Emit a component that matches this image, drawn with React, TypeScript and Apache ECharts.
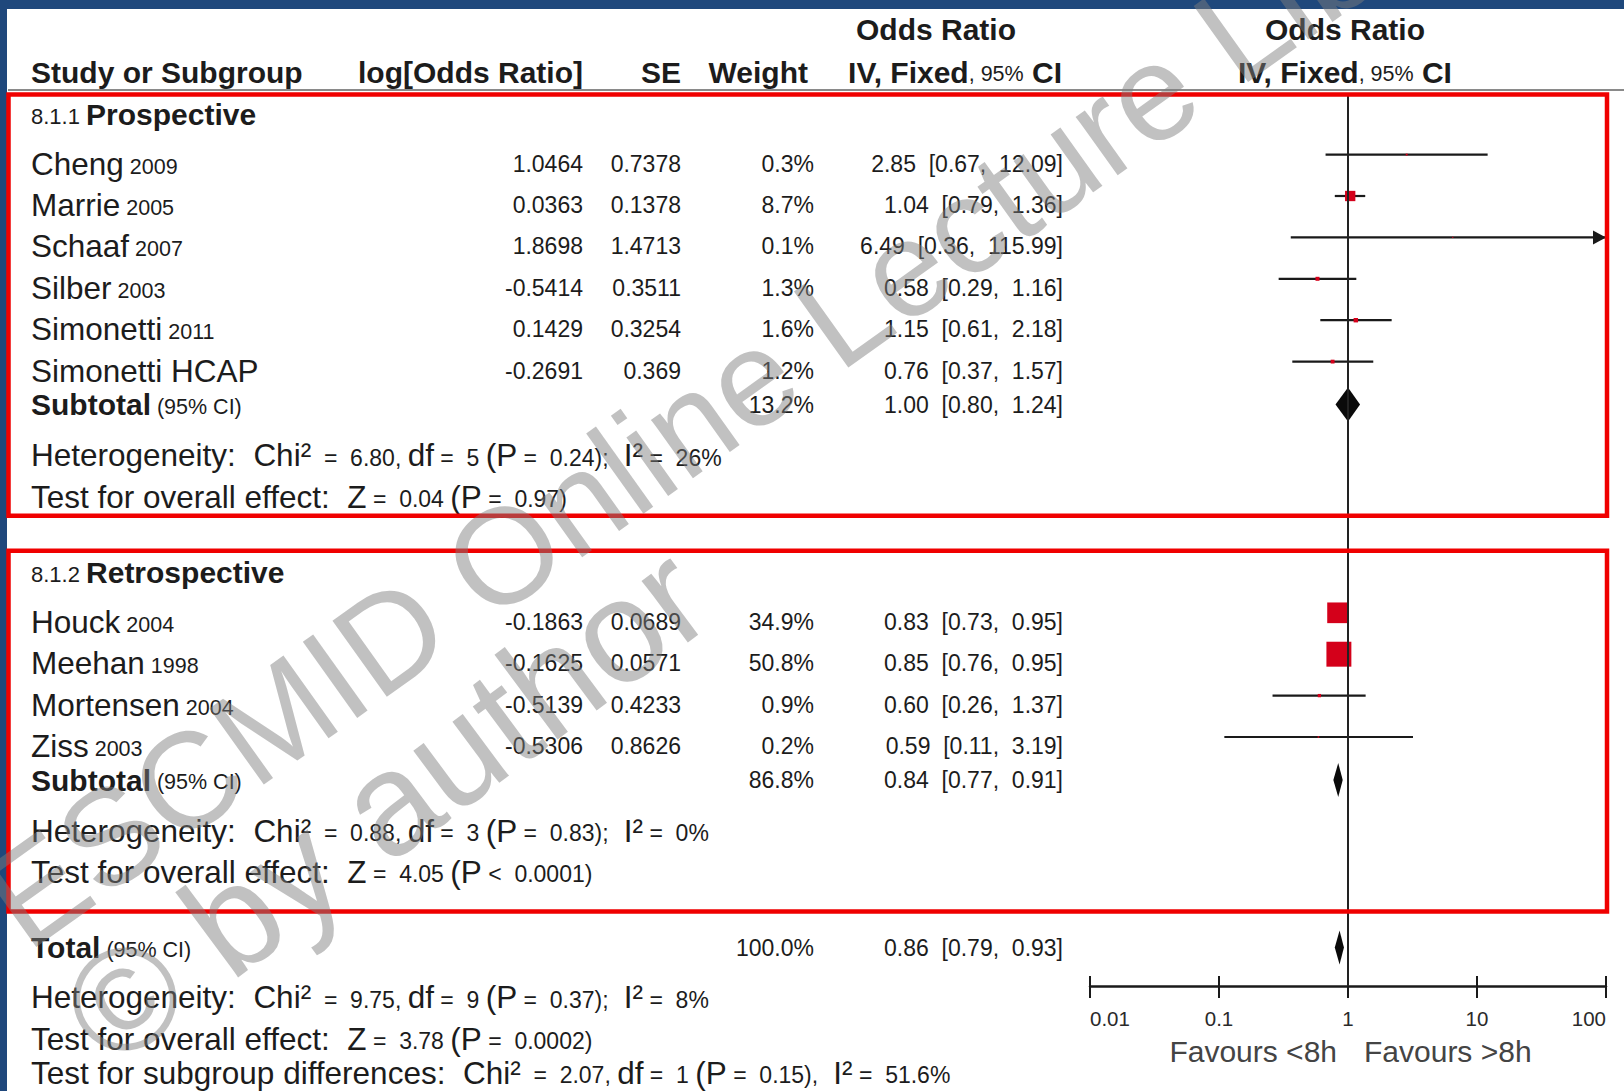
import React, { useEffect, useRef } from 'react';
import * as echarts from 'echarts';

const FONT = '"Liberation Sans", Arial, sans-serif';
const INK = '#1c1c1c';

// 8.1.1 Prospective
const prospectiveStudies = ['Cheng', 'Marrie', 'Schaaf', 'Silber', 'Simonetti', 'Simonetti HCAP'];
const prospectiveYears = ['2009', '2005', '2007', '2003', '2011', ''];
const prospectiveLogOR = [1.0464, 0.0363, 1.8698, -0.5414, 0.1429, -0.2691];
const prospectiveSE = [0.7378, 0.1378, 1.4713, 0.3511, 0.3254, 0.369];
const prospectiveWeight = [0.3, 8.7, 0.1, 1.3, 1.6, 1.2];
const prospectiveOR = [2.85, 1.04, 6.49, 0.58, 1.15, 0.76];
const prospectiveLow = [0.67, 0.79, 0.36, 0.29, 0.61, 0.37];
const prospectiveHigh = [12.09, 1.36, 115.99, 1.16, 2.18, 1.57];

// 8.1.2 Retrospective
const retrospectiveStudies = ['Houck', 'Meehan', 'Mortensen', 'Ziss'];
const retrospectiveYears = ['2004', '1998', '2004', '2003'];
const retrospectiveLogOR = [-0.1863, -0.1625, -0.5139, -0.5306];
const retrospectiveSE = [0.0689, 0.0571, 0.4233, 0.8626];
const retrospectiveWeight = [34.9, 50.8, 0.9, 0.2];
const retrospectiveOR = [0.83, 0.85, 0.6, 0.59];
const retrospectiveLow = [0.73, 0.76, 0.26, 0.11];
const retrospectiveHigh = [0.95, 0.95, 1.37, 3.19];

const subgroupNumbers = ['8.1.1', '8.1.2'];
const subgroupNames = ['Prospective', 'Retrospective'];
const subtotalWeight = [13.2, 86.8];
const subtotalOR = [1.0, 0.84];
const subtotalLow = [0.8, 0.77];
const subtotalHigh = [1.24, 0.91];
const totalWeight = 100.0;
const totalOR = 0.86;
const totalLow = 0.79;
const totalHigh = 0.93;

// heterogeneity / overall effect: prospective, retrospective, total
const hetChi = ['6.80', '0.88', '9.75'];
const hetDf = ['5', '3', '9'];
const hetP = ['= 0.24', '= 0.83', '= 0.37'];
const hetI2 = ['26%', '0%', '8%'];
const effectZ = ['0.04', '4.05', '3.78'];
const effectP = ['= 0.97', '< 0.0001', '= 0.0002'];
const diffChi = '2.07';
const diffDf = '1';
const diffP = '= 0.15';
const diffI2 = '51.6%';

const tickValues = [0.01, 0.1, 1, 10, 100];
const tickLabels = ['0.01', '0.1', '1', '10', '100'];
const favourLeft = 'Favours <8h';
const favourRight = 'Favours >8h';

// layout
const PAGE_W = 1624;
const PAGE_H = 1091;
const PLOT_LEFT = 1090;
const PLOT_RIGHT = 1606;
const PLOT_TOP = 95;
const AXIS_Y = 986;
const COL_LABEL = 31;
const COL_LOGOR = 583;
const COL_SE = 681;
const COL_WEIGHT = 814;
const COL_CI = 1063;
const PLOT_CENTER = 1345;
const SQUARE_K = 3.5;
const DIAMOND_H = 17;
const MARK_OFFSET = 9;
const NUM_FONT = `23px ${FONT}`;

const studies = [prospectiveStudies, retrospectiveStudies];
const years = [prospectiveYears, retrospectiveYears];
const logORs = [prospectiveLogOR, retrospectiveLogOR];
const ses = [prospectiveSE, retrospectiveSE];
const weights = [prospectiveWeight, retrospectiveWeight];
const ors = [prospectiveOR, retrospectiveOR];
const lows = [prospectiveLow, retrospectiveLow];
const highs = [prospectiveHigh, retrospectiveHigh];

type Row = { kind: string; y: number; g: number; i: number };

function buildRows(): Row[] {
  const rows: Row[] = [];
  let y = 114;
  for (let g = 0; g < 2; g++) {
    if (g > 0) y += 75.7;
    rows.push({ kind: 'group', g, i: -1, y });
    for (let i = 0; i < studies[g].length; i++) {
      y += i === 0 ? 49.6 : 41.4;
      rows.push({ kind: 'study', g, i, y });
    }
    y += 34;
    rows.push({ kind: 'subtotal', g, i: -1, y });
    y += 50.5;
    rows.push({ kind: 'het', g, i: -1, y });
    y += 41.4;
    rows.push({ kind: 'effect', g, i: -1, y });
  }
  y += 75.7;
  rows.push({ kind: 'total', g: 2, i: -1, y });
  y += 49.7;
  rows.push({ kind: 'het', g: 2, i: -1, y });
  y += 41.4;
  rows.push({ kind: 'effect', g: 2, i: -1, y });
  y += 34;
  rows.push({ kind: 'diff', g: 2, i: -1, y });
  return rows;
}

const tok = (size: number, bold = false, lift = 0) => ({
  fontSize: size,
  fontFamily: FONT,
  fontWeight: bold ? 'bold' : 'normal',
  fill: INK,
  verticalAlign: 'bottom',
  padding: [0, 0, lift, 0],
});

const RICH = {
  b: tok(30, true),
  w: tok(31.5),
  s: tok(21.5, false, 2),
  n: tok(23, false, 2),
  sb: tok(22, false, 2),
};

function text(x: number, y: number, content: string, align = 'left', font = NUM_FONT, rich = false, fill = INK) {
  const style: any = {
    text: content,
    x: 0,
    y: 0,
    fill,
    font,
    textAlign: align,
    verticalAlign: 'middle',
    textVerticalAlign: 'middle',
  };
  if (rich) style.rich = RICH;
  return { type: 'text', x, y, silent: true, z: 10, style };
}

const ci = (o: number, l: number, h: number) => `${o.toFixed(2)}  [${l.toFixed(2)},  ${h.toFixed(2)}]`;

// statistic line: words in the large face, values in the small one
const stat = (parts: [string, string][]) => parts.map(([k, v]) => `{${k}|${v}}`).join('');
// relation sign followed by a wide gap, as in the printed statistics
const rel = (s: string) => s.replace(/^([=<]) /, '$1  ');

function tableGraphics(rows: Row[], oneX: number) {
  const out: any[] = [];
  // frame
  out.push({ type: 'rect', shape: { x: 0, y: 0, width: PAGE_W, height: 9 }, style: { fill: '#1f487c' }, silent: true });
  out.push({ type: 'rect', shape: { x: 0, y: 0, width: 7, height: PAGE_H }, style: { fill: '#1f487c' }, silent: true });
  out.push({ type: 'line', shape: { x1: 8, y1: 90, x2: PAGE_W, y2: 90 }, style: { stroke: '#8a8a8a', lineWidth: 2 }, silent: true });

  // headers
  out.push(text(936, 29, 'Odds Ratio', 'center', `bold 30px ${FONT}`));
  out.push(text(PLOT_CENTER, 29, 'Odds Ratio', 'center', `bold 30px ${FONT}`));
  out.push(text(COL_LABEL, 72, 'Study or Subgroup', 'left', `bold 30px ${FONT}`));
  out.push(text(COL_LOGOR, 72, 'log[Odds Ratio]', 'right', `bold 30px ${FONT}`));
  out.push(text(COL_SE, 72, 'SE', 'right', `bold 30px ${FONT}`));
  out.push(text(COL_WEIGHT - 6, 72, 'Weight', 'right', `bold 30px ${FONT}`));
  out.push(text(COL_CI - 1, 72, '{b|IV, Fixed}{s|, 95%}{b| CI}', 'right', `bold 30px ${FONT}`, true));
  out.push(text(PLOT_CENTER, 72, '{b|IV, Fixed}{s|, 95%}{b| CI}', 'center', `bold 30px ${FONT}`, true));

  const boxes: number[][] = [];
  rows.forEach((r) => {
    const y = r.y;
    const g = r.g;
    if (r.kind === 'group') {
      out.push(text(COL_LABEL, y, `{sb|${subgroupNumbers[g]} }{b|${subgroupNames[g]}}`, 'left', `bold 30px ${FONT}`, true));
      boxes.push([y - (g === 0 ? 19.5 : 21.5)]);
    } else if (r.kind === 'study') {
      const i = r.i;
      const yr = years[g][i];
      out.push(text(COL_LABEL, y, `{w|${studies[g][i]}}${yr ? `{s| ${yr}}` : ''}`, 'left', `31px ${FONT}`, true));
      out.push(text(COL_LOGOR, y, String(logORs[g][i]), 'right'));
      out.push(text(COL_SE, y, String(ses[g][i]), 'right'));
      out.push(text(COL_WEIGHT, y, `${weights[g][i].toFixed(1)}%`, 'right'));
      out.push(text(COL_CI, y, ci(ors[g][i], lows[g][i], highs[g][i]), 'right'));
    } else if (r.kind === 'subtotal' || r.kind === 'total') {
      const isTotal = r.kind === 'total';
      out.push(text(COL_LABEL, y, `{b|${isTotal ? 'Total' : 'Subtotal'}}{s| (95% CI)}`, 'left', `bold 30px ${FONT}`, true));
      out.push(text(COL_WEIGHT, y, `${(isTotal ? totalWeight : subtotalWeight[g]).toFixed(1)}%`, 'right'));
      out.push(text(COL_CI, y, isTotal ? ci(totalOR, totalLow, totalHigh) : ci(subtotalOR[g], subtotalLow[g], subtotalHigh[g]), 'right'));
    } else if (r.kind === 'het') {
      out.push(text(COL_LABEL, y, stat([
        ['w', 'Heterogeneity:  Chi²'], ['n', `  =  ${hetChi[g]}, `], ['w', 'df'], ['n', ` =  ${hetDf[g]} `],
        ['w', '(P'], ['n', ` ${rel(hetP[g])}); `], ['w', ' I²'], ['n', ` =  ${hetI2[g]}`],
      ]), 'left', `31px ${FONT}`, true));
    } else if (r.kind === 'effect') {
      out.push(text(COL_LABEL, y, stat([
        ['w', 'Test for overall effect:  Z'], ['n', ` =  ${effectZ[g]} `], ['w', '(P'], ['n', ` ${rel(effectP[g])})`],
      ]), 'left', `31px ${FONT}`, true));
      if (g < 2) boxes[g].push(y + (g === 0 ? 19.3 : 39.5));
    } else if (r.kind === 'diff') {
      out.push(text(COL_LABEL, y, stat([
        ['w', 'Test for subgroup differences:  Chi²'], ['n', `  =  ${diffChi}, `], ['w', 'df'], ['n', ` =  ${diffDf} `],
        ['w', '(P'], ['n', ` ${rel(diffP)}), `], ['w', ' I²'], ['n', ` =  ${diffI2}`],
      ]), 'left', `31px ${FONT}`, true));
    }
  });

  boxes.forEach(([top, bottom]) => {
    out.push({
      type: 'rect',
      silent: true,
      z: 20,
      shape: { x: 8.5, y: top, width: 1598.5, height: bottom - top },
      style: { fill: 'none', stroke: '#f00000', lineWidth: 4.5 },
    });
  });

  out.push(text(oneX - 11, 1051, favourLeft, 'right', `30px ${FONT}`, false, '#444'));
  out.push(text(oneX + 16, 1051, favourRight, 'left', `30px ${FONT}`, false, '#444'));

  // watermark
  const wm = { fill: 'rgba(125,125,125,0.48)', textAlign: 'center', verticalAlign: 'middle', textVerticalAlign: 'middle' };
  out.push({ type: 'text', x: 775, y: 362, rotation: 0.62, silent: true, z: 50, style: { ...wm, font: `136px ${FONT}`, text: 'ESCMID Online Lecture Library' } });
  out.push({ type: 'text', x: 385, y: 805, rotation: 0.64, silent: true, z: 50, style: { ...wm, font: `146px ${FONT}`, text: '© by author' } });
  return out;
}

export default function App() {
  const ref = useRef<HTMLDivElement>(null);

  useEffect(() => {
    document.body.style.margin = '0';
    const chart = echarts.init(ref.current!, null, { renderer: 'svg' });
    const rows = buildRows();

    const studyData: number[][] = [];
    rows.forEach((r) => {
      if (r.kind === 'study') {
        studyData.push([ors[r.g][r.i], lows[r.g][r.i], highs[r.g][r.i], weights[r.g][r.i], r.y - MARK_OFFSET]);
      }
    });
    const diamondData: number[][] = [];
    rows.forEach((r) => {
      if (r.kind === 'subtotal') diamondData.push([subtotalOR[r.g], subtotalLow[r.g], subtotalHigh[r.g], r.y]);
      if (r.kind === 'total') diamondData.push([totalOR, totalLow, totalHigh, r.y]);
    });

    const axisBase = {
      type: 'log',
      logBase: 10,
      min: tickValues[0],
      max: tickValues[tickValues.length - 1],
      position: 'bottom',
      splitLine: { show: false },
    };

    const option: any = {
      animation: false,
      backgroundColor: '#ffffff',
      grid: [
        { left: PLOT_LEFT, width: PLOT_RIGHT - PLOT_LEFT, top: 0, height: AXIS_Y, containLabel: false },
        // thin strip sharing the axis baseline, carries the upward half of the ticks
        { left: PLOT_LEFT, width: PLOT_RIGHT - PLOT_LEFT, top: AXIS_Y - 20, height: 20, containLabel: false },
      ],
      xAxis: [
        {
          ...axisBase,
          gridIndex: 0,
          axisLine: { show: true, onZero: false, lineStyle: { color: '#1a1a1a', width: 2.5 } },
          axisTick: { show: true, inside: false, length: 12, lineStyle: { color: '#1a1a1a', width: 2 } },
          axisLabel: {
            show: true,
            margin: 22,
            fontSize: 20.5,
            fontFamily: FONT,
            color: '#2a2a2a',
            alignMinLabel: 'left',
            alignMaxLabel: 'right',
            formatter: (v: number) => {
              const k = tickValues.findIndex((t) => Math.abs(Math.log10(t) - Math.log10(v)) < 1e-6);
              return k >= 0 ? tickLabels[k] : '';
            },
          },
        },
        {
          ...axisBase,
          gridIndex: 1,
          axisLine: { show: false, onZero: false },
          axisTick: { show: true, inside: true, length: 10, lineStyle: { color: '#1a1a1a', width: 2 } },
          axisLabel: { show: false },
        },
      ],
      yAxis: [
        { type: 'value', gridIndex: 0, min: 0, max: AXIS_Y, inverse: true, show: false },
        { type: 'value', gridIndex: 1, min: 0, max: 1, show: false },
      ],
      series: [
        {
          type: 'custom',
          name: 'studies',
          xAxisIndex: 0,
          yAxisIndex: 0,
          data: studyData,
          encode: { x: 0, y: 4 },
          renderItem: (_p: any, api: any) => {
            const o = api.value(0), lo = api.value(1), hi = api.value(2), w = api.value(3), yv = api.value(4);
            const maxV = tickValues[tickValues.length - 1];
            const c = api.coord([o, yv]);
            const pl = api.coord([lo, yv]);
            const ph = api.coord([Math.min(hi, maxV), yv]);
            const side = SQUARE_K * Math.sqrt(w);
            const children: any[] = [
              { type: 'line', shape: { x1: pl[0], y1: c[1], x2: ph[0], y2: c[1] }, style: { stroke: '#1a1a1a', lineWidth: 2.2 } },
              { type: 'rect', shape: { x: c[0] - side / 2, y: c[1] - side / 2, width: side, height: side }, style: { fill: '#d4001a' } },
            ];
            if (hi > maxV) {
              children.push({
                type: 'polygon',
                shape: { points: [[ph[0], c[1]], [ph[0] - 13, c[1] - 7], [ph[0] - 13, c[1] + 7]] },
                style: { fill: '#1a1a1a' },
              });
            }
            return { type: 'group', children };
          },
          markLine: {
            silent: true,
            symbol: 'none',
            label: { show: false },
            lineStyle: { color: '#222', width: 2, type: 'solid' },
            data: [[{ coord: [1, PLOT_TOP] }, { coord: [1, AXIS_Y] }]],
          },
        },
        {
          type: 'custom',
          name: 'pooled',
          xAxisIndex: 0,
          yAxisIndex: 0,
          data: diamondData,
          encode: { x: 0, y: 3 },
          renderItem: (_p: any, api: any) => {
            const o = api.value(0), lo = api.value(1), hi = api.value(2), yv = api.value(3);
            const c = api.coord([o, yv]);
            const pl = api.coord([lo, yv]);
            const ph = api.coord([hi, yv]);
            return {
              type: 'polygon',
              shape: { points: [[pl[0], c[1]], [c[0], c[1] - DIAMOND_H], [ph[0], c[1]], [c[0], c[1] + DIAMOND_H]] },
              style: { fill: '#0a0a0a' },
            };
          },
        },
      ],
    };

    chart.setOption(option);
    const oneX = chart.convertToPixel({ xAxisIndex: 0 }, 1) as number;
    chart.setOption({ graphic: tableGraphics(rows, oneX) });

    return () => chart.dispose();
  }, []);

  return <div ref={ref} style={{ width: PAGE_W, height: PAGE_H }} />;
}
